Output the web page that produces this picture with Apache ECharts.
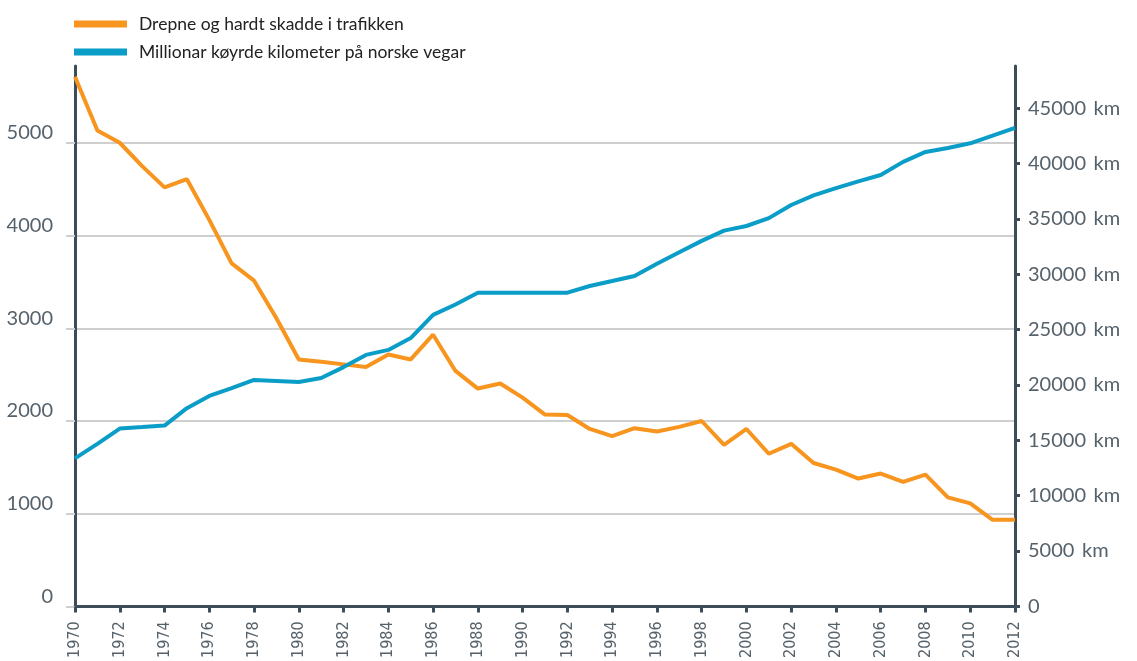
<!DOCTYPE html>
<html>
<head>
<meta charset="utf-8">
<script src="https://cdn.jsdelivr.net/npm/echarts@6/dist/echarts.min.js"></script>
<style>
  html, body { margin: 0; padding: 0; background: #fff; }
  #chart { width: 1137px; height: 661px; }
</style>
</head>
<body>
<div id="chart"></div>
<script>
// years on the x axis
const years = [];
for (let y = 1970; y <= 2012; y++) years.push(String(y));

// killed and seriously injured (left axis)
const injured = [
  5715, 5134, 5002, 4750, 4520, 4609, 4170, 3700, 3514, 3108,
  2664, 2640, 2611, 2582, 2717, 2664, 2931, 2540, 2350, 2404,
  2252, 2069, 2064, 1914, 1836, 1922, 1887, 1937, 2000, 1743,
  1914, 1647, 1754, 1547, 1475, 1379, 1433, 1344, 1422, 1176,
  1111, 934, 934
];

// million km driven (right axis)
const kilometres = [
  13370, 14680, 16060, 16190, 16330, 17900, 19000, 19710, 20450, 20360,
  20270, 20630, 21610, 22710, 23160, 24230, 26320, 27260, 28330, 28330,
  28330, 28330, 28330, 28930, 29380, 29840, 30940, 31980, 33010, 33930,
  34350, 35060, 36250, 37120, 37770, 38380, 38960, 40140, 41040, 41400,
  41820, 42510, 43210
];

const seriesNames = ['Drepne og hardt skadde i trafikken', 'Millionar køyrde kilometer på norske vegar'];

const axisDark = '#3c4d59';
const labelGrey = '#56626b';
const font = 'Lato, "Open Sans", sans-serif';

const chart = echarts.init(document.getElementById('chart'));
chart.setOption({
  animation: false,
  textStyle: { fontFamily: font },
  legend: {
    orient: 'vertical',
    left: 74,
    top: 15,
    padding: 0,
    icon: 'rect',
    itemWidth: 53,
    itemHeight: 7,
    itemGap: 10,
    textStyle: { fontSize: 17.5, color: '#222', lineHeight: 16, padding: [0, 0, 0, 7] },
    data: seriesNames
  },
  grid: { left: 75, right: 122, top: 66, bottom: 52, containLabel: false },
  xAxis: {
    type: 'category',
    data: years,
    boundaryGap: false,
    axisLine: { lineStyle: { color: axisDark, width: 3 } },
    axisTick: { interval: 1, length: 6, lineStyle: { color: axisDark, width: 3 } },
    axisLabel: {
      interval: 1,
      rotate: 90,
      fontSize: 16,
      fontFamily: '"Liberation Sans Narrow", "DejaVu Sans Condensed", sans-serif',
      color: labelGrey,
      margin: 15
    },
    splitLine: { show: false }
  },
  yAxis: [
    {
      type: 'value',
      min: 0,
      max: 5830,
      interval: 1000,
      axisLine: { show: true, lineStyle: { color: axisDark, width: 3 } },
      axisTick: { show: true, length: 9, lineStyle: { color: '#cfcfcf', width: 2 } },
      axisLabel: {
        fontSize: 20,
        color: labelGrey,
        margin: 22,
        showMaxLabel: false,
        verticalAlign: 'bottom',
        formatter: v => String(v)
      },
      splitLine: { show: true, showMaxLine: false, lineStyle: { color: '#cfcfcf', width: 2 } }
    },
    {
      type: 'value',
      min: 0,
      max: 48800,
      interval: 5000,
      position: 'right',
      axisLine: { show: true, lineStyle: { color: axisDark, width: 3 } },
      axisTick: { show: true, length: 5, lineStyle: { color: axisDark, width: 3 } },
      axisLabel: {
        fontSize: 20,
        color: labelGrey,
        margin: 13,
        showMaxLabel: false,
        padding: [0, 0, 7, 0],
        formatter: v => (v === 0 ? '0' : v + ' \u2009km')
      },
      splitLine: { show: false }
    }
  ],
  series: [
    {
      name: seriesNames[0],
      type: 'line',
      yAxisIndex: 0,
      data: injured,
      symbol: 'none',
      lineStyle: { color: '#f7951f', width: 4 },
      itemStyle: { color: '#f7951f' }
    },
    {
      name: seriesNames[1],
      type: 'line',
      yAxisIndex: 1,
      data: kilometres,
      symbol: 'none',
      lineStyle: { color: '#0a9dc8', width: 4 },
      itemStyle: { color: '#0a9dc8' }
    }
  ]
});
</script>
</body>
</html>
